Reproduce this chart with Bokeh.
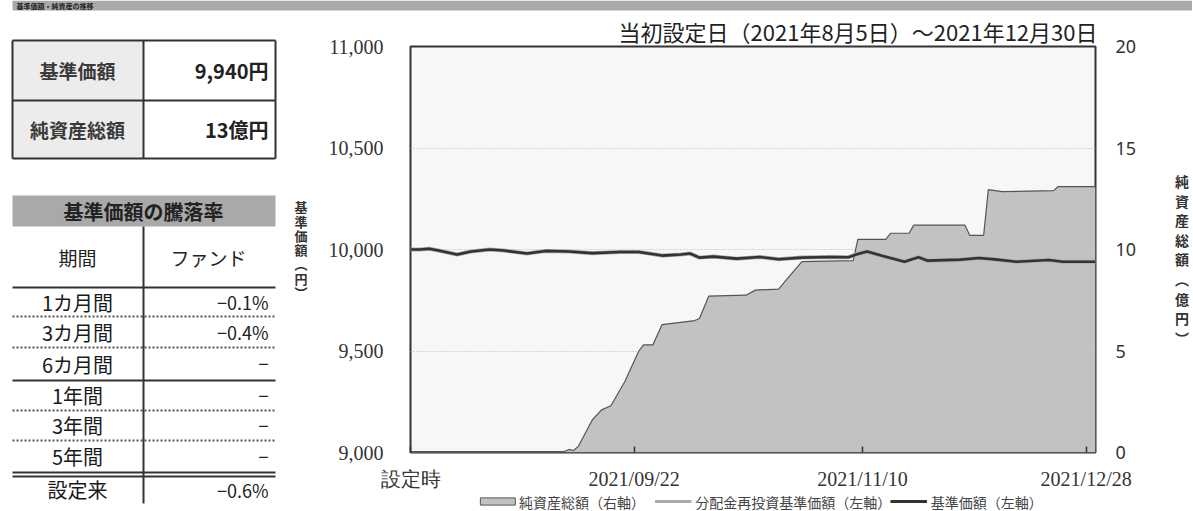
import pandas as pd
from bokeh.plotting import figure
from bokeh.models import Range1d, LinearAxis, FixedTicker, NumeralTickFormatter
from bokeh.layouts import column, row
from bokeh.embed import file_html
from bokeh.resources import INLINE
from bokeh.core.properties import value

# ---------------- data ----------------
page_title = "基準価額・純資産の推移"
period_title = "当初設定日（2021年8月5日）～2021年12月30日"

summary_labels = ["基準価額", "純資産総額"]
summary_values = ["9,940円", "13億円"]

returns_title = "基準価額の騰落率"
returns_header = ["期間", "ファンド"]
return_periods = ["1カ月間", "3カ月間", "6カ月間", "1年間", "3年間", "5年間", "設定来"]
return_values = ["−0.1%", "−0.4%", "−", "−", "−", "−", "−0.6%"]

nav_dates = ["2021-08-05", "2021-08-07", "2021-08-09", "2021-08-11", "2021-08-15", "2021-08-18",
             "2021-08-22", "2021-08-25", "2021-08-30", "2021-09-03", "2021-09-08", "2021-09-13",
             "2021-09-19", "2021-09-23", "2021-09-28", "2021-10-02", "2021-10-04", "2021-10-06",
             "2021-10-09", "2021-10-14", "2021-10-19", "2021-10-23", "2021-10-28", "2021-11-03",
             "2021-11-07", "2021-11-09", "2021-11-11", "2021-11-14", "2021-11-19", "2021-11-22",
             "2021-11-24", "2021-12-01", "2021-12-05", "2021-12-09", "2021-12-13", "2021-12-20",
             "2021-12-23", "2021-12-30"]
nav_values = [10000, 10000, 10004, 9995, 9975, 9990,
              10000, 9995, 9980, 9993, 9990, 9982,
              9988, 9988, 9970, 9975, 9980, 9960,
              9965, 9955, 9963, 9952, 9960, 9963,
              9962, 9978, 9990, 9970, 9940, 9962,
              9945, 9950, 9958, 9950, 9940, 9948,
              9940, 9940]
# no distributions were paid, so the reinvested NAV equals the NAV
reinvest_values = [10000, 10000, 10004, 9995, 9975, 9990,
                   10000, 9995, 9980, 9993, 9990, 9982,
                   9988, 9988, 9970, 9975, 9980, 9960,
                   9965, 9955, 9963, 9952, 9960, 9963,
                   9962, 9978, 9990, 9970, 9940, 9962,
                   9945, 9950, 9958, 9950, 9940, 9948,
                   9940, 9940]

asset_dates = ["2021-08-05", "2021-09-07", "2021-09-08", "2021-09-09", "2021-09-10", "2021-09-13",
               "2021-09-15", "2021-09-17", "2021-09-20", "2021-09-23", "2021-09-24", "2021-09-26",
               "2021-09-28", "2021-10-05", "2021-10-06", "2021-10-08", "2021-10-16", "2021-10-18",
               "2021-10-23", "2021-10-25", "2021-10-28", "2021-11-08", "2021-11-09", "2021-11-15",
               "2021-11-16", "2021-11-20", "2021-11-21", "2021-12-02", "2021-12-03", "2021-12-06",
               "2021-12-07", "2021-12-10", "2021-12-21", "2021-12-22", "2021-12-30"]
asset_values = [0.05, 0.05, 0.15, 0.10, 0.3, 1.6,
                2.1, 2.3, 3.5, 5.0, 5.3, 5.3,
                6.3, 6.5, 6.6, 7.7, 7.75, 8.0,
                8.05, 8.6, 9.4, 9.45, 10.5, 10.5,
                10.8, 10.8, 11.2, 11.2, 10.7, 10.7,
                12.95, 12.85, 12.9, 13.1, 13.1]

x_tick_dates = ["2021-08-05", "2021-09-22", "2021-11-10", "2021-12-28"]
x_tick_labels = ["設定時", "2021/09/22", "2021/11/10", "2021/12/28"]
x_start, x_end = "2021-08-05", "2021-12-30"
left_ticks = [9000, 9500, 10000, 10500, 11000]
left_grid = [9500, 10000, 10500]
right_ticks = [0, 5, 10, 15, 20]
legend_labels = ["純資産総額（右軸）", "分配金再投資基準価額（左軸）", "基準価額（左軸）"]
left_axis_title = "基準価額（円）"
right_axis_title = "純資産総額（億円）"

# ---------------- helpers ----------------
JP = "Noto Sans CJK JP"


def vertical(s):
    return "\n".join(s.replace("（", "︵").replace("）", "︶"))


def to_ms(d):
    return pd.Timestamp(d).value / 1e6


nav_x = pd.to_datetime(nav_dates)
asset_x = pd.to_datetime(asset_dates)


def blank(w, h, xr, yr):
    f = figure(width=w, height=h, x_range=xr, y_range=yr, toolbar_location=None,
               output_backend="svg", min_border=0, x_axis_location=None,
               y_axis_location=None, outline_line_color=None,
               background_fill_color="white", border_fill_color="white")
    f.grid.visible = False
    return f


# ---------------- header band ----------------
top = blank(1192, 12, Range1d(0, 1192), Range1d(12, 0))
top.quad(left=[12], right=[1192], bottom=[10], top=[0], fill_color="#a9a9a9", line_color=None)
top.text(x=[16], y=[5.5], text=[page_title], text_baseline="middle", text_align="left",
         text_font=value(JP), text_font_size="7px", text_font_style="bold", text_color="#222")

# ---------------- left tables ----------------
left = blank(290, 498, Range1d(0, 290), Range1d(510, 12))
# table 1
left.quad(left=[12], right=[143], top=[40], bottom=[158], fill_color="#ececec", line_color=None)
left.segment(x0=[12, 12, 12, 12, 143, 275], y0=[40, 100, 158, 40, 40, 40],
             x1=[275, 275, 275, 12, 143, 275], y1=[40, 100, 158, 158, 158, 158],
             line_color="#333", line_width=2)
t1_y = [70, 129]
left.text(x=[77, 77], y=t1_y, text=summary_labels, text_align="center", text_baseline="middle",
          text_font=value(JP), text_font_size="19px", text_font_style="bold", text_color="#3a3a3a")
left.text(x=[268, 268], y=t1_y, text=summary_values, text_align="right", text_baseline="middle",
          text_font=value(JP), text_font_size="20px", text_font_style="bold", text_color="#222")

# table 2
left.quad(left=[12], right=[275], top=[195], bottom=[226], fill_color="#a9a9a9", line_color=None)
left.text(x=[143], y=[211], text=[returns_title], text_align="center", text_baseline="middle",
          text_font=value(JP), text_font_size="20px", text_font_style="bold", text_color="#222")
left.text(x=[77, 208], y=[257, 257], text=returns_header, text_align="center", text_baseline="middle",
          text_font=value(JP), text_font_size="19px", text_color="#222")
solid_y = [287, 380, 472, 476]
left.segment(x0=[12] * 4, y0=solid_y, x1=[275] * 4, y1=solid_y, line_color="#333", line_width=2)
dot_y = [316, 347, 410, 440]
left.segment(x0=[12] * 4, y0=dot_y, x1=[275] * 4, y1=dot_y, line_color="#555", line_width=2,
             line_dash="2 2")
left.segment(x0=[143], y0=[226], x1=[143], y1=[503], line_color="#333", line_width=2)
row_y = [301.5, 331.5, 363.5, 395, 425, 456, 489]
left.text(x=[77] * 7, y=row_y, text=return_periods, text_align="center", text_baseline="middle",
          text_font=value(JP), text_font_size="20px", text_color="#1a1a1a")
left.text(x=[268] * 7, y=row_y, text=return_values, text_align="right", text_baseline="middle",
          text_font=value(JP), text_font_size="18px", text_color="#222")

# ---------------- chart ----------------
chart = figure(width=902, height=480, x_axis_type="datetime",
               x_range=Range1d(pd.Timestamp(x_start), pd.Timestamp(x_end)),
               y_range=Range1d(9000, 11000), toolbar_location=None, output_backend="svg",
               min_border_left=120, min_border_right=95, min_border_top=30, min_border_bottom=39,
               background_fill_color="#f7f7f7", border_fill_color="white",
               outline_line_color="#333", outline_line_width=2, title=period_title)
chart.title.align = "right"
chart.title.text_font = JP
chart.title.text_font_size = "22px"
chart.title.text_font_style = "normal"
chart.title.text_color = "#222"
chart.title.standoff = 0
chart.title.offset = -2

chart.extra_y_ranges = {"right": Range1d(0, 20)}
ra = LinearAxis(y_range_name="right", ticker=FixedTicker(ticks=right_ticks))
chart.add_layout(ra, "right")

chart.varea(x=asset_x, y1=0, y2=asset_values, y_range_name="right", fill_color="#c2c2c2")
chart.line(asset_x, asset_values, y_range_name="right", line_color="#555", line_width=1.2)
chart.line(nav_x, reinvest_values, line_color="#aaaaaa", line_width=4)
chart.line(nav_x, nav_values, line_color="#333333", line_width=2.6)

chart.xgrid.visible = False
chart.ygrid.ticker = FixedTicker(ticks=left_grid)
chart.ygrid.grid_line_color = "#b5b5b5"
chart.ygrid.grid_line_dash = "1 2"

la = chart.left[0]
la.ticker = FixedTicker(ticks=left_ticks)
la.formatter = NumeralTickFormatter(format="0,0")
la.major_label_text_font = "Liberation Serif"
la.major_label_text_font_size = "20px"
la.major_label_text_color = "#333"
la.major_label_standoff = 27
la.major_tick_in = 0
la.major_tick_out = 0
la.minor_tick_in = 0
la.minor_tick_out = 0
la.axis_line_color = None
la.axis_label = vertical(left_axis_title)
la.axis_label_orientation = "horizontal"
la.axis_label_text_font = JP
la.axis_label_text_font_size = "13px"
la.axis_label_text_font_style = "bold"
la.axis_label_text_color = "#333"
la.axis_label_text_line_height = 0.75
la.axis_label_standoff = 18

ra.major_label_text_font = "Noto Sans"
ra.major_label_text_font_size = "18px"
ra.major_label_text_color = "#333"
ra.major_label_standoff = 20
ra.major_tick_in = 0
ra.major_tick_out = 0
ra.minor_tick_in = 0
ra.minor_tick_out = 0
ra.axis_line_color = None
ra.axis_label = "\n" + vertical(right_axis_title)
ra.axis_label_orientation = "horizontal"
ra.axis_label_text_font = JP
ra.axis_label_text_font_size = "14px"
ra.axis_label_text_font_style = "bold"
ra.axis_label_text_color = "#333"
ra.axis_label_text_line_height = 0.98
ra.axis_label_standoff = 36

xa = chart.below[0]
tick_ms = [to_ms(d) for d in x_tick_dates]
xa.ticker = FixedTicker(ticks=tick_ms)
xa.major_label_overrides = {t: lab for t, lab in zip(tick_ms, x_tick_labels)}
xa.major_label_text_font = "Liberation Serif"
xa.major_label_text_font_size = "20px"
xa.major_label_text_color = "#333"
xa.major_label_standoff = 15
xa.major_tick_in = 6
xa.major_tick_out = 0
xa.major_tick_line_color = "#333"
xa.major_tick_line_width = 1.5
xa.minor_tick_in = 0
xa.minor_tick_out = 0
xa.axis_line_color = None

# ---------------- legend strip ----------------
leg = blank(902, 18, Range1d(290, 1192), Range1d(0, 1))
leg.quad(left=[382], right=[428], bottom=[0.3], top=[0.7], fill_color="#c2c2c2",
         line_color="#555", line_width=1)
leg.segment(x0=[612], y0=[0.5], x1=[660], y1=[0.5], line_color="#aaaaaa", line_width=3)
leg.segment(x0=[922], y0=[0.5], x1=[970], y1=[0.5], line_color="#333333", line_width=3)
leg.text(x=[433, 665, 975], y=[0.5] * 3, text=legend_labels, text_align="left",
         text_baseline="middle", text_font=value(JP), text_font_size="14px", text_color="#444")

layout = column(top, row(left, column(chart, leg)))
open("out.html", "w").write(file_html(layout, INLINE))
